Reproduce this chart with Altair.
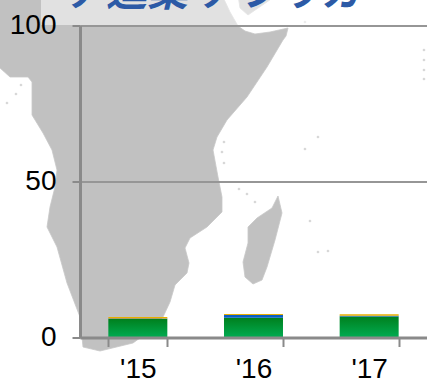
import altair as alt
import pandas as pd

years = ["'15", "'16", "'17"]
green = [5.9, 6.3, 6.7]
blue = [0.2, 0.9, 0.25]
yellow = [0.5, 0.3, 0.5]

heading = "ア進業 アフリカ"

# Backdrop map outlines, in map units
mainland = [
    (-5, -5), (222, -5), (230, 12), (238, 26), (245, 31), (255, 34), (270, 32), (288, 28),
    (286, 36), (283, 40), (267, 67), (247, 97), (227, 120), (217, 137), (213, 150),
    (218, 177), (222, 197), (222, 212), (207, 227), (190, 238), (185, 248), (189, 263),
    (187, 273), (175, 285), (170, 302), (163, 317), (147, 333), (133, 343), (100, 351),
    (83, 347), (80, 317), (67, 283), (57, 247), (47, 227), (50, 207), (55, 187), (57, 170),
    (52, 150), (43, 133), (32, 115), (32, 82), (28, 77), (10, 77), (0, 68), (-5, 66),
]
arabia = [(238, -5), (240, 8), (248, 15), (277, -5)]
madagascar = [
    (278, 196), (282, 213), (275, 240), (267, 267), (262, 280), (253, 284), (245, 277),
    (243, 262), (248, 243), (248, 227), (257, 218), (272, 208),
]
islets = [
    (224, 142), (222, 152), (224, 163), (239, 189), (247, 194), (255, 202), (318, 137),
    (305, 149), (310, 221), (318, 252), (328, 251), (21, 85), (16, 94), (7, 103),
    (424, 50), (424, 60), (424, 70), (424, 79), (305, 22),
]
heading_band = [(41, -5), (432, -5), (432, 25), (41, 25)]


def polygon(points):
    ring = [list(p) for p in points] + [list(points[0])]
    return {"type": "Feature", "properties": {}, "geometry": {"type": "Polygon", "coordinates": [ring]}}


def speck(x, y, r=1.6):
    return polygon([(x - r, y), (x, y - r), (x + r, y), (x, y + r)])


map_projection = {"type": "identity", "scale": 1, "translate": [-80, -25.5]}

land = alt.Chart(alt.Data(values=[polygon(mainland), polygon(arabia), polygon(madagascar)])).mark_geoshape(
    fill="#c1c1c1", stroke="#c8c8c8", strokeWidth=0.8, clip=False
).project(**map_projection)

specks = alt.Chart(alt.Data(values=[speck(x, y) for x, y in islets])).mark_geoshape(
    fill="#d4d4d4", strokeWidth=0, clip=False
).project(**map_projection)

veil = alt.Chart(alt.Data(values=[polygon(heading_band)])).mark_geoshape(
    fill="#ffffff", fillOpacity=0.52, strokeWidth=0, clip=False
).project(**map_projection)

bars = pd.DataFrame({"year": years, "green": green, "blue": blue, "yellow": yellow})
bars["base"] = 0.0
bars["green_top"] = bars["green"]
bars["blue_top"] = bars["green_top"] + bars["blue"]
bars["yellow_top"] = bars["blue_top"] + bars["yellow"]

x_enc = alt.X(
    "year:N",
    sort=years,
    scale=alt.Scale(paddingInner=0.49, paddingOuter=0.245),
    axis=alt.Axis(
        title=None,
        labelAngle=0,
        labelFont="Liberation Sans",
        labelFontSize=28,
        labelColor="#000000",
        labelPadding=9,
        domainColor="#8a8a8a",
        domainWidth=3,
        tickColor="#8a8a8a",
        tickWidth=2,
        tickSize=9,
        tickBand="extent",
        grid=False,
        zindex=1,
    ),
)
y_scale = alt.Scale(domain=[0, 100], nice=False)
y_axis = alt.Axis(
    title=None,
    values=[0, 50, 100],
    labelFont="Liberation Sans",
    labelFontSize=28,
    labelColor="#000000",
    labelPadding=16,
    domainColor="#8a8a8a",
    domainWidth=3,
    tickColor="#8a8a8a",
    tickWidth=2,
    tickSize=8,
    grid=True,
    gridColor="#969696",
    gridWidth=2,
    zindex=1,
)

green_fill = alt.Gradient(
    gradient="linear",
    x1=0, x2=0, y1=0, y2=1,
    stops=[alt.GradientStop(color="#00801e", offset=0), alt.GradientStop(color="#00ac52", offset=1)],
)

base = alt.Chart(bars)
green_bars = base.mark_bar(color=green_fill).encode(
    x=x_enc, y=alt.Y("green_top:Q", scale=y_scale, axis=y_axis), y2="base:Q"
)
blue_bars = base.mark_bar(color="#0a5fc4").encode(x=x_enc, y=alt.Y("blue_top:Q", scale=y_scale, axis=y_axis), y2="green_top:Q")
yellow_bars = base.mark_bar(color="#e8ae00").encode(x=x_enc, y=alt.Y("yellow_top:Q", scale=y_scale, axis=y_axis), y2="blue_top:Q")

title_text = alt.Chart(pd.DataFrame({"label": [heading]})).mark_text(
    font="Noto Sans CJK JP",
    fontSize=41,
    fontWeight="bold",
    fontStyle="italic",
    color="#2c5aa6",
    align="left",
    baseline="alphabetic",
).encode(x=alt.value(-15), y=alt.value(-20), text="label:N")

chart = alt.layer(land, specks, veil, green_bars, blue_bars, yellow_bars, title_text).properties(
    width=347,
    height=312,
    autosize=alt.AutoSizeParams(type="none"),
    padding={"left": 80, "top": 25.5, "right": 0, "bottom": 44.5},
    background="#ffffff",
).configure_view(strokeWidth=0)

chart.save("out.html", embed_options={"renderer": "svg", "actions": False})
